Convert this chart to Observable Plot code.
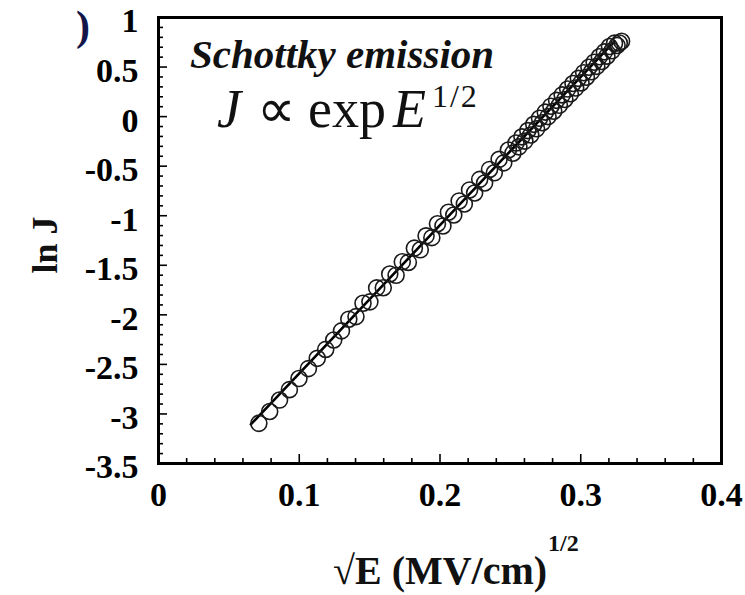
<!DOCTYPE html>
<html>
<head>
<meta charset="utf-8">
<script src="https://cdn.jsdelivr.net/npm/d3@7"></script>
<script src="https://cdn.jsdelivr.net/npm/@observablehq/plot@0.6"></script>
<style>
  html, body { margin: 0; padding: 0; background: #fff; overflow: hidden; }
</style>
</head>
<body>
<div id="chart"></div>
<script>
// sqrt(E) values (MV/cm)^1/2
const sqrtE = [0.0713, 0.0790, 0.0860, 0.0930, 0.0998, 0.1065, 0.1128, 0.1188, 0.1245, 0.1300,
  0.1352, 0.1403, 0.1453, 0.1502, 0.1550, 0.1597, 0.1643, 0.1688, 0.1732, 0.1775,
  0.1818, 0.1860, 0.1901, 0.1942, 0.1982, 0.2021, 0.2060, 0.2098, 0.2136, 0.2173,
  0.2210, 0.2246, 0.2282, 0.2317, 0.2352, 0.2386, 0.2420, 0.2453, 0.2486,
  0.2518, 0.2540, 0.2561, 0.2582, 0.2603, 0.2624, 0.2645, 0.2666, 0.2686, 0.2707,
  0.2727, 0.2748, 0.2768, 0.2788, 0.2808, 0.2828, 0.2848, 0.2868, 0.2887, 0.2907,
  0.2926, 0.2945, 0.2964, 0.2983, 0.3002, 0.3021, 0.3040, 0.3058, 0.3077, 0.3095,
  0.3114, 0.3132, 0.3150, 0.3168, 0.3186, 0.3204, 0.3222, 0.3240, 0.3258, 0.3274, 0.3290];
// ln J values
const lnJ = [-3.095, -2.975, -2.860, -2.755, -2.643, -2.543, -2.439, -2.349, -2.254, -2.162,
  -2.044, -2.018, -1.883, -1.869, -1.728, -1.727, -1.588, -1.601, -1.465, -1.471,
  -1.327, -1.344, -1.203, -1.221, -1.081, -1.103, -0.965, -0.993, -0.851, -0.881,
  -0.740, -0.771, -0.633, -0.670, -0.533, -0.567, -0.431, -0.467, -0.337,
  -0.369, -0.267, -0.305, -0.204, -0.247, -0.141, -0.185, -0.078, -0.123, -0.017,
  -0.062, 0.045, 0.000, 0.105, 0.054, 0.164, 0.114, 0.219, 0.173, 0.278,
  0.231, 0.334, 0.288, 0.386, 0.340, 0.443, 0.397, 0.498, 0.452, 0.549,
  0.507, 0.604, 0.556, 0.653, 0.610, 0.707, 0.664, 0.741, 0.718, 0.742, 0.760];
// linear fit end points
const fitX = [0.0656, 0.3238];
const fitY = [-3.105, 0.757];

const xTicks = [0, 0.1, 0.2, 0.3, 0.4];
const xMinor = [0.02, 0.04, 0.06, 0.08, 0.12, 0.14, 0.16, 0.18, 0.22, 0.24, 0.26, 0.28, 0.32, 0.34, 0.36, 0.38];
const xMajorInner = [0.1, 0.2, 0.3];
const yTicks = [-3.5, -3, -2.5, -2, -1.5, -1, -0.5, 0, 0.5, 1];
const yMinor = [-3.4, -3.3, -3.2, -3.1, -2.9, -2.8, -2.7, -2.6, -2.4, -2.3, -2.2, -2.1,
  -1.9, -1.8, -1.7, -1.6, -1.4, -1.3, -1.2, -1.1, -0.9, -0.8, -0.7, -0.6,
  -0.4, -0.3, -0.2, -0.1, 0.1, 0.2, 0.3, 0.4, 0.6, 0.7, 0.8, 0.9];
const yMajorInner = [-3, -2.5, -2, -1.5, -1, -0.5, 0, 0.5];

const points = sqrtE.map((x, i) => ({x, y: lnJ[i]}));
const fit = fitX.map((x, i) => ({x, y: fitY[i]}));

const W = 745, H = 595, mL = 158, mR = 24, mT = 17, mB = 132;
const fw = W - mL - mR, fh = H - mT - mB;
const serif = "'Liberation Serif', 'Times New Roman', serif";

const chart = Plot.plot({
  width: W, height: H,
  marginLeft: mL, marginRight: mR, marginTop: mT, marginBottom: mB,
  x: {domain: [0, 0.4]},
  y: {domain: [-3.5, 1]},
  style: {fontFamily: serif, fontWeight: "bold", background: "#fff", color: "#000", overflow: "visible"},
  marks: [
    Plot.axisX({ticks: xTicks, tickSize: 0, tickPadding: 18, fontSize: 34, tickFormat: d => String(d), label: null}),
    Plot.axisY({ticks: yTicks, tickSize: 0, tickPadding: 20, fontSize: 34, dy: 4, tickFormat: d => String(d), label: null}),
    Plot.tickX(xMinor, {x: d => d, insetTop: fh - 5, stroke: "#000", strokeWidth: 1.6}),
    Plot.tickX(xMajorInner, {x: d => d, insetTop: fh - 9, stroke: "#000", strokeWidth: 1.6}),
    Plot.tickY(yMinor, {y: d => d, insetRight: fw - 5, stroke: "#000", strokeWidth: 1.6}),
    Plot.tickY(yMajorInner, {y: d => d, insetRight: fw - 9, stroke: "#000", strokeWidth: 1.6}),
    Plot.line(fit, {x: "x", y: "y", stroke: "#000", strokeWidth: 2.6}),
    Plot.dot(points, {x: "x", y: "y", r: 8, stroke: "#1a1a1a", strokeWidth: 1.6, fill: "none"}),
    Plot.frame({stroke: "#000", strokeWidth: 3})
  ]
});
document.getElementById("chart").appendChild(chart);

const svg = d3.select(chart);

// cut-off panel label fragment
svg.append("text").attr("x", 76).attr("y", 40).attr("text-anchor", "start").attr("font-family", serif)
  .attr("font-size", 42).attr("font-weight", "bold").attr("fill", "#14164a").text(")");

// inset title
svg.append("text").attr("x", 190).attr("y", 68).attr("text-anchor", "start").attr("font-family", serif)
  .attr("font-size", 41).attr("font-weight", "bold").attr("font-style", "italic")
  .attr("fill", "#111").text("Schottky emission");

// equation
const eq = svg.append("text").attr("x", 217).attr("y", 127).attr("text-anchor", "start").attr("font-family", serif)
  .attr("font-size", 54).attr("font-weight", "normal").attr("fill", "#111");
eq.append("tspan").attr("font-style", "italic").text("J");
eq.append("tspan").attr("dx", 16).text("∝");
eq.append("tspan").attr("dx", 12).text("exp");
eq.append("tspan").attr("dx", 7).attr("font-style", "italic").text("E");
eq.append("tspan").attr("font-size", 32).attr("dy", -20).attr("dx", 6).attr("letter-spacing", 2).text("1/2");

// y axis label
svg.append("text").attr("transform", "translate(57,245) rotate(-90)").attr("text-anchor", "middle")
  .attr("font-family", serif).attr("font-size", 36).attr("font-weight", "bold").attr("fill", "#111").text("ln J");

// x axis label
const xl = svg.append("text").attr("x", 333).attr("y", 584).attr("text-anchor", "start").attr("font-family", serif)
  .attr("font-size", 40).attr("font-weight", "bold").attr("fill", "#111");
xl.append("tspan").text("√E (MV/cm)");
xl.append("tspan").attr("font-size", 24).attr("dy", -33).attr("dx", 1).text("1/2");
</script>
</body>
</html>
